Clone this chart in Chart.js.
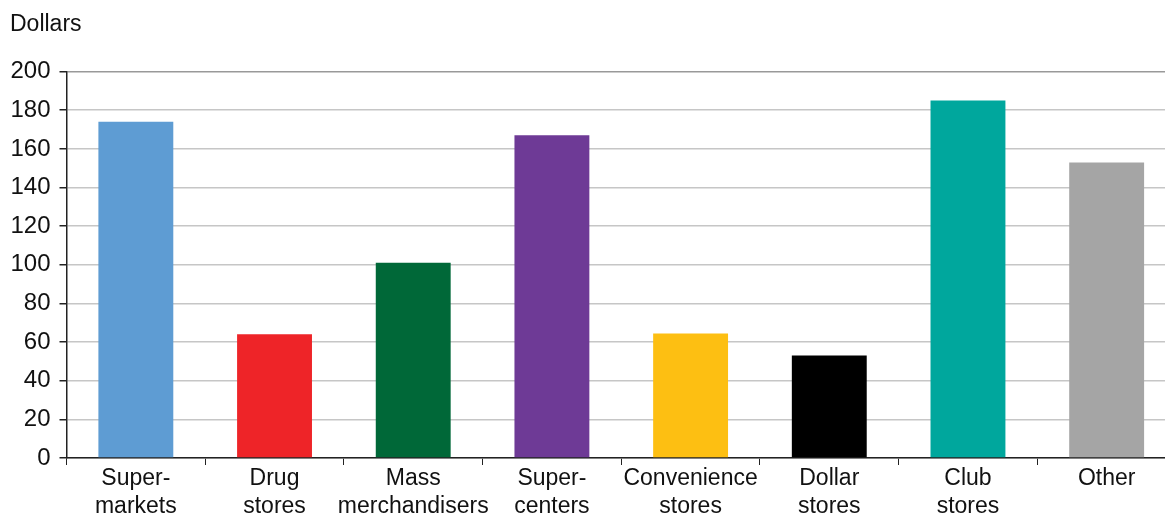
<!DOCTYPE html>
<html>
<head>
<meta charset="utf-8">
<script src="https://cdn.jsdelivr.net/npm/chart.js@4"></script>
<style>
  html, body { margin: 0; padding: 0; background: #fff; overflow: hidden; }
  #wrap { width: 1176px; height: 514px; position: relative; }
</style>
</head>
<body>
<div id="wrap"><canvas id="spend_chart"></canvas></div>
<script>
const categories = [['Super-', 'markets'], ['Drug', 'stores'], ['Mass', 'merchandisers'], ['Super-', 'centers'],
  ['Convenience', 'stores'], ['Dollar', 'stores'], ['Club', 'stores'], 'Other'];
const dollars = [174, 64, 101, 167, 64.5, 53, 185, 153];
const barColors = ['#5E9CD3', '#EE2428', '#006838', '#6E3A96', '#FDBF12', '#000000', '#00A79D', '#A5A5A5'];

const ctx = document.getElementById('spend_chart').getContext('2d');
Chart.defaults.font.family = '"Liberation Sans", Arial, sans-serif';
Chart.defaults.color = '#111';

new Chart(ctx, {
  type: 'bar',
  data: {
    labels: categories,
    datasets: [{
      data: dollars,
      backgroundColor: barColors,
      barPercentage: 0.54,
      categoryPercentage: 1
    }]
  },
  options: {
    responsive: true,
    maintainAspectRatio: false,
    animation: false,
    layout: { padding: { left: 10, right: 0, top: 0, bottom: 0 } },
    plugins: {
      legend: { display: false },
      tooltip: { enabled: false },
      title: {
        display: true,
        text: 'Dollars',
        align: 'start',
        font: { size: 23, weight: 'normal', lineHeight: 1.2 },
        color: '#111',
        padding: { top: 11, bottom: 33 }
      }
    },
    scales: {
      x: {
        afterFit: (s) => { s.height = 56; },
        grid: { display: true, drawOnChartArea: false, drawTicks: true, tickLength: 7, tickColor: '#222', offset: true },
        border: { color: '#222', width: 1.5 },
        ticks: { color: '#111', font: { size: 23, lineHeight: 1.2 }, padding: 0, maxRotation: 0, autoSkip: false }
      },
      y: {
        min: 0,
        max: 200,
        afterFit: (s) => { s.width = 56.5; },
        grid: {
          color: (c) => c.tick && c.tick.value === 200 ? '#999' : '#C6C6C6',
          lineWidth: 1.5,
          tickLength: 7,
          tickColor: '#222'
        },
        border: { color: '#222', width: 1.5 },
        ticks: { stepSize: 20, color: '#111', font: { size: 24 }, padding: 9 }
      }
    }
  }
});
</script>
</body>
</html>
